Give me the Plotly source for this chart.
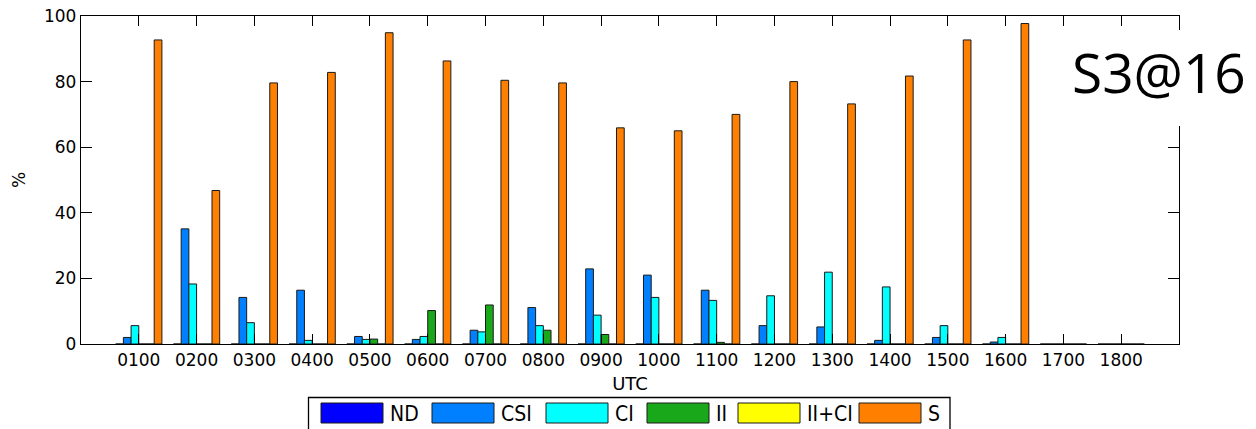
import plotly.graph_objects as go

# Hourly occurrence (%) of each class
hours = ["0100", "0200", "0300", "0400", "0500", "0600", "0700", "0800", "0900",
         "1000", "1100", "1200", "1300", "1400", "1500", "1600", "1700", "1800"]

nd = [0, 0, 0, 0, 0, 0, 0, 0, 0, 0, 0, 0, 0, 0, 0, 0, 0, 0]
csi = [2.0, 35.1, 14.2, 16.4, 2.3, 1.4, 4.2, 11.1, 22.9, 21.0, 16.4, 5.6, 5.2, 1.1, 2.0, 0.6, 0, 0]
ci = [5.6, 18.3, 6.5, 1.1, 1.4, 2.3, 3.7, 5.6, 8.8, 14.2, 13.3, 14.7, 21.9, 17.4, 5.6, 2.0, 0, 0]
ii = [0, 0, 0, 0, 1.5, 10.2, 11.9, 4.2, 2.9, 0, 0.5, 0, 0, 0, 0, 0, 0, 0]
ii_ci = [0, 0, 0, 0, 0, 0, 0, 0, 0, 0, 0, 0, 0, 0, 0, 0, 0, 0]
s = [92.7, 46.8, 79.6, 82.8, 94.9, 86.3, 80.4, 79.6, 65.9, 65.0, 70.0, 80.0, 73.2, 81.7, 92.7, 97.7, 0, 0]

series_names = ["ND", "CSI", "CI", "II", "II+CI", "S"]
series_values = [nd, csi, ci, ii, ii_ci, s]
series_colors = ["#0000FF", "#0080FF", "#00FFFF", "#19A819", "#FFFF00", "#FF8000"]

y_ticks = [0, 20, 40, 60, 80, 100]
panel_label = "S3@16"

W, H = 1256, 429


def px(x):
    return x / W


def py(y):
    return 1 - y / H


fig = go.Figure()
for name, vals, col in zip(series_names, series_values, series_colors):
    fig.add_trace(go.Bar(
        x=hours, y=vals, name=name, showlegend=False,
        marker=dict(color=col, line=dict(color="#1a1a1a", width=1)),
    ))

axis_common = dict(
    showline=True, linecolor="black", linewidth=1.3, mirror="ticks",
    ticks="inside", tickcolor="black", tickwidth=1.3,
    showgrid=False, zeroline=False, automargin=False,
    tickfont=dict(family="DejaVu Sans", size=17, color="black"),
)

fig.update_layout(
    width=W, height=H,
    margin=dict(l=0, r=0, t=0, b=0),
    paper_bgcolor="white", plot_bgcolor="white",
    barmode="group", bargap=0.2, bargroupgap=0,
    xaxis=dict(
        axis_common, type="category", range=[-1, len(hours)],
        ticklen=10, domain=[px(81), px(1179)],
        title=dict(text="UTC", font=dict(family="DejaVu Sans", size=18, color="black"), standoff=8),
    ),
    yaxis=dict(
        axis_common, range=[0, 100], tickvals=y_ticks, ticklen=11,
        domain=[py(344), py(16)],
        title=dict(text="%", font=dict(family="DejaVu Sans", size=17, color="black"), standoff=14),
    ),
)

shapes = []
annotations = []

# White panel that carries the panel label over the right frame
shapes.append(dict(type="rect", xref="paper", yref="paper", layer="above",
                   x0=px(1064), x1=px(1256), y0=py(126), y1=py(30),
                   fillcolor="white", line=dict(width=0)))
annotations.append(dict(xref="paper", yref="paper", x=px(1070), y=py(72),
                        xanchor="left", yanchor="middle", showarrow=False,
                        text=panel_label,
                        font=dict(family="Open Sans", size=55, color="black")))

# Legend box along the bottom edge
shapes.append(dict(type="rect", xref="paper", yref="paper", layer="above",
                   x0=px(308.5), x1=px(950), y0=py(440), y1=py(397.5),
                   fillcolor="white", line=dict(color="black", width=1.3)))
swatch_left = [321, 432, 546, 647, 738, 859]
for name, col, xl in zip(series_names, series_colors, swatch_left):
    shapes.append(dict(type="rect", xref="paper", yref="paper", layer="above",
                       x0=px(xl), x1=px(xl + 62), y0=py(423), y1=py(403),
                       fillcolor=col, line=dict(color="#1a1a1a", width=1)))
    annotations.append(dict(xref="paper", yref="paper", x=px(xl + 67), y=py(413.5),
                            xanchor="left", yanchor="middle", showarrow=False,
                            text=name,
                            font=dict(family="Liberation Sans Narrow, DejaVu Sans Condensed, Arial Narrow, sans-serif",
                                      size=21, color="black")))

fig.update_layout(shapes=shapes, annotations=annotations)

fig.write_html("out.html")
